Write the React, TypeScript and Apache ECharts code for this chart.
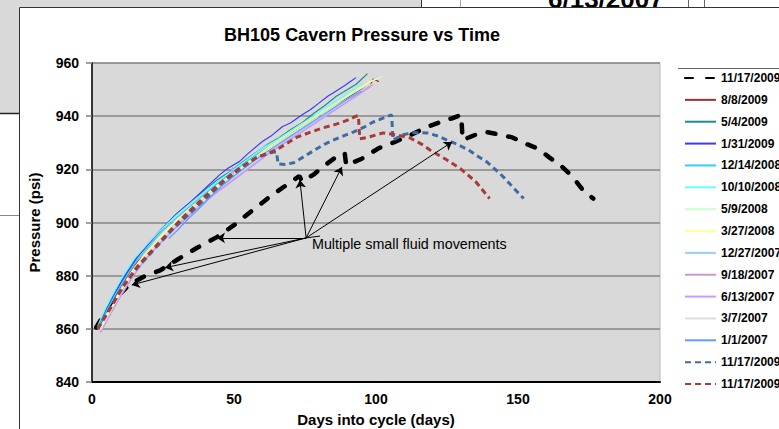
import React, { useEffect, useRef } from "react";
import * as echarts from "echarts";

const FONT = "Liberation Sans, Arial, Helvetica, sans-serif";

const chartTitle = "BH105 Cavern Pressure vs Time";
const xAxisName = "Days into cycle (days)";
const yAxisName = "Pressure (psi)";
const annotationText = "Multiple small fluid movements";

// [day, psi]
const black111709 = [
  [1.5, 860.5], [4, 865], [8, 871], [13, 876.5], [18, 879.5], [24, 882], [30, 886], [37, 890.5],
  [44, 894.5], [50, 899], [57, 905], [63, 910], [69, 914.5], [73, 917.5], [74, 915.5], [78, 918],
  [82, 921.5], [87, 925.5], [89, 926], [89.5, 921.5], [95, 924], [101, 928], [106, 930], [112, 932.8],
  [118, 936], [122, 937.5], [127, 939.3], [130, 940.5], [130.5, 931], [135, 933], [139, 934], [144, 933],
  [148, 932], [153, 929.5], [157, 927.8], [161, 924.5], [165, 921.5], [169, 917.5], [173, 912], [176.5, 909],
];
const s080809 = [
  [2, 860], [4, 864.5], [7, 870], [11, 877.5], [15, 884], [20, 890], [25, 895.5], [30, 900.5], [35, 905.5],
  [40, 910], [45, 914.5], [50, 918.5], [55, 922.5], [60, 926.5], [65, 930], [70, 933.5], [75, 937],
  [80, 940.5], [85, 944], [90, 947], [95, 950], [98, 951.5], [99, 954], [101, 953],
];
const s050409 = [
  [2, 860], [4, 865.5], [7, 871.5], [11, 879.5], [15, 886], [19, 891], [24, 897], [29, 902.5], [34, 907],
  [39, 911.5], [44, 916], [49, 919.5], [54, 923.5], [58, 926.5], [62, 929.5], [66, 932], [70, 935],
  [74, 937.5], [78, 941], [82, 944], [86, 947.5], [90, 950], [93, 952], [95, 954], [97, 956],
];
const s013109 = [
  [2, 860], [3.5, 864], [5, 867], [8, 873], [10, 877], [12, 880.5], [16, 887], [20, 892], [25, 898],
  [30, 903.5], [35, 908], [40, 913], [45, 918], [48, 920.5], [52, 923], [55, 926], [60, 930.5], [63, 932.5],
  [67, 936], [70, 937.5], [74, 940.5], [77, 942.5], [80, 945], [83, 947.5], [86, 949.5], [89, 951.5],
  [91, 953], [93, 954.5],
];
const s121408 = [
  [2, 860], [5, 866.5], [8, 872.5], [12, 879.5], [16, 886], [20, 891], [25, 897], [30, 902], [35, 906.5],
  [40, 911], [45, 915.5], [50, 919.5], [55, 923.5], [60, 927], [65, 930.5], [70, 934], [75, 937.5],
  [80, 941], [85, 944.5], [90, 948], [96, 952],
];
const s101008 = [
  [2, 861], [4, 866], [7, 872.5], [11, 880], [15, 886.5], [20, 892.5], [25, 898], [30, 903], [35, 907.5],
  [40, 912], [45, 916], [50, 920], [55, 924], [60, 928], [65, 931], [70, 934.5], [75, 938], [80, 941.5],
  [85, 945], [90, 948.5], [95, 952],
];
const s050908 = [
  [3, 860], [6, 866], [10, 874], [14, 881], [18, 887], [23, 893], [28, 898.5], [33, 903.5], [38, 908],
  [43, 912.5], [48, 916.5], [53, 920.5], [58, 924.5], [63, 928.5], [68, 932], [73, 935.5], [78, 939],
  [83, 942.5], [88, 946], [93, 949.5], [98, 953], [102.5, 955],
];
const s032708 = [
  [3, 860], [6, 866.5], [10, 874], [14, 881.5], [18, 887.5], [23, 893.5], [28, 899], [33, 904], [38, 908.5],
  [43, 913], [48, 917], [53, 921], [58, 925], [63, 929], [68, 932.5], [73, 936], [78, 939.5], [83, 943],
  [88, 946.5], [93, 950], [97, 952.5], [100, 954],
];
const s122707 = [
  [3, 859], [6, 865], [10, 872.5], [14, 879.5], [18, 885.5], [23, 891.5], [28, 897], [33, 902], [38, 906.5],
  [43, 911], [48, 915], [53, 919], [58, 923], [63, 927], [68, 930.5], [73, 934], [78, 937.5], [83, 941],
  [88, 944.5], [93, 948], [97, 950.5],
];
const s091807 = [
  [3, 858.5], [6, 864.5], [10, 872], [14, 879], [18, 885], [23, 891], [28, 896.5], [33, 901.5], [38, 906],
  [43, 910.5], [48, 914.5], [53, 918.5], [58, 922.5], [63, 926.5], [68, 930], [73, 933.5], [78, 937],
  [83, 940.5], [88, 944], [93, 947.5], [99, 952],
];
const s061307 = [
  [3, 859], [6, 865], [10, 872.5], [14, 879.5], [18, 885.5], [23, 891], [28, 896.5], [33, 901.5], [38, 906],
  [43, 910.5], [48, 914.5], [49, 917.5], [49.5, 921], [50, 916], [53, 918.5], [58, 922.5], [63, 926.5],
  [68, 930], [73, 933.5], [78, 937], [83, 940.5], [88, 944], [93, 947.5], [98, 951],
];
const s030707 = [
  [3, 859.5], [6, 865.5], [10, 873], [14, 880], [18, 886], [23, 892], [28, 897.5], [33, 902.5], [38, 907],
  [43, 911.5], [48, 915.5], [53, 919.5], [58, 923.5], [63, 927.5], [68, 931], [73, 934.5], [78, 938],
  [83, 941.5], [88, 945], [93, 948.5], [100, 953],
];
const s010107 = [
  [27, 894], [30, 897], [34, 901.5], [38, 905.5], [42, 910], [46, 914], [50, 917.5], [55, 921.5],
  [60, 925.5], [65, 929], [70, 932.5], [75, 936], [80, 939.5], [85, 943], [90, 946.5], [95, 949.5],
];
const blue111709 = [
  [2, 860], [6, 867], [11, 876], [16, 883], [22, 890], [28, 897], [34, 903], [40, 909], [46, 915],
  [52, 920], [58, 924.5], [64, 926.5], [65, 926.5], [65.5, 922], [68, 921.8], [71, 922.5], [75, 925],
  [78, 927], [82, 929.5], [85, 931], [89, 932.8], [92, 934], [96, 936], [99, 937.8], [103, 939.5],
  [105.5, 940.5], [106, 931], [109.5, 933], [113, 933.8], [118, 933.7], [122, 932.5], [125, 931],
  [129, 929.2], [133, 927], [136, 924.8], [139, 922.8], [142, 920], [145, 917], [148, 913.5], [152, 909],
];
const red111709 = [
  [2, 860], [6, 867], [11, 876], [16, 883.5], [22, 890.5], [28, 897.5], [34, 904], [40, 910], [46, 915.5],
  [52, 920.5], [58, 924.5], [63, 926.5], [66, 928], [72, 932], [77, 934], [81, 935.5], [86, 937],
  [90, 938.5], [93, 940], [93.8, 940.2], [94.3, 931.5], [97, 932], [102.5, 933.7], [107, 933],
  [112, 931.8], [116, 929.5], [119, 927.3], [125, 923.5], [130, 920], [135, 915.5], [140, 909],
];

const annotationOrigin = [75.4, 894.2];
const arrowTargets = [
  [73.2, 916], [88, 920.9], [126.8, 930.3], [44, 894.2], [25.7, 883], [14, 876.5],
];
const stubEnd = [80.3, 894.9];

type Def = { name: string; data: number[][]; color: string; kind: "solid" | "black" | "dash" };
const seriesDefs: Def[] = [
  { name: "11/17/2009", data: black111709, color: "#000000", kind: "black" },
  { name: "8/8/2009", data: s080809, color: "#993333", kind: "solid" },
  { name: "5/4/2009", data: s050409, color: "#1a8f8f", kind: "solid" },
  { name: "1/31/2009", data: s013109, color: "#3a3aff", kind: "solid" },
  { name: "12/14/2008", data: s121408, color: "#33ccff", kind: "solid" },
  { name: "10/10/2008", data: s101008, color: "#66ffff", kind: "solid" },
  { name: "5/9/2008", data: s050908, color: "#ccffcc", kind: "solid" },
  { name: "3/27/2008", data: s032708, color: "#ffff99", kind: "solid" },
  { name: "12/27/2007", data: s122707, color: "#99ccff", kind: "solid" },
  { name: "9/18/2007", data: s091807, color: "#cc99cc", kind: "solid" },
  { name: "6/13/2007", data: s061307, color: "#cc99ff", kind: "solid" },
  { name: "3/7/2007", data: s030707, color: "#dddddd", kind: "solid" },
  { name: "1/1/2007", data: s010107, color: "#6699ff", kind: "solid" },
  { name: "11/17/2009 ", data: blue111709, color: "#3d6ca3", kind: "dash" },
  { name: "11/17/2009  ", data: red111709, color: "#a83b38", kind: "dash" },
];

export default function App() {
  const ref = useRef<HTMLDivElement>(null);
  useEffect(() => {
    if (!ref.current) return;
    const chart = echarts.init(ref.current, null, { renderer: "svg" });
    const series: any[] = seriesDefs.map((d) => {
      const base: any = {
        name: d.name,
        type: "line",
        data: d.data,
        symbol: "none",
        silent: true,
        itemStyle: { color: d.color },
      };
      if (d.kind === "solid") {
        base.lineStyle = { color: d.color, width: 1.2 };
      } else if (d.kind === "black") {
        base.lineStyle = { color: d.color, width: 4.5, type: [8, 13], cap: "round" };
      } else {
        base.lineStyle = { color: d.color, width: 3, type: [6, 4] };
        base.z = 3;
      }
      return base;
    });
    const arrowData: any[] = arrowTargets.map((t) => [
      { coord: annotationOrigin, symbol: "none" },
      { coord: t, symbol: "arrow" },
    ]);
    arrowData.push([
      { coord: annotationOrigin, symbol: "none" },
      { coord: stubEnd, symbol: "none" },
    ]);
    series.push({
      name: "annotation",
      type: "line",
      data: [],
      silent: true,
      z: 4,
      markLine: {
        silent: true,
        symbolSize: 8,
        label: { show: false },
        lineStyle: { color: "#000", width: 1, type: "solid" },
        emphasis: { disabled: true },
        data: arrowData,
      },
    });

    chart.setOption({
      animation: false,
      backgroundColor: "#ffffff",
      title: {
        text: chartTitle,
        left: 357,
        textAlign: "center",
        top: 21,
        textStyle: { fontFamily: FONT, fontSize: 18, fontWeight: "bold", color: "#000" },
      },
      grid: {
        left: 92,
        top: 63,
        right: 119,
        bottom: 47,
        outerBoundsMode: "none",
        containLabel: false,
        show: true,
        backgroundColor: "#d9d9d9",
        borderColor: "#b8b8b8",
        borderWidth: 1,
      },
      legend: {
        data: seriesDefs.map((d) => d.name),
        orient: "vertical",
        left: 684,
        top: 72,
        itemWidth: 31,
        itemHeight: 12,
        itemGap: 9.86,
        itemTextGap: 5,
        padding: 0,
        selectedMode: false,
        itemStyle: { opacity: 0, color: "transparent", borderColor: "transparent", borderWidth: 0 },
        formatter: (n: string) => n.trim(),
        textStyle: { fontFamily: FONT, fontSize: 12, fontWeight: "bold", color: "#000", lineHeight: 12 },
      },
      xAxis: {
        type: "value",
        min: 0,
        max: 200,
        interval: 50,
        name: xAxisName,
        nameLocation: "middle",
        nameGap: 30,
        nameTextStyle: { fontFamily: FONT, fontSize: 15, fontWeight: "bold", color: "#000" },
        axisLine: { show: true, onZero: false, lineStyle: { color: "#000", width: 2 } },
        axisTick: { show: false },
        splitLine: { show: false },
        axisLabel: { fontFamily: FONT, fontSize: 14, fontWeight: "bold", color: "#000", margin: 10 },
      },
      yAxis: {
        type: "value",
        min: 840,
        max: 960,
        interval: 20,
        name: yAxisName,
        nameLocation: "middle",
        nameGap: 50,
        nameRotate: 90,
        nameTextStyle: { fontFamily: FONT, fontSize: 15, fontWeight: "bold", color: "#000" },
        axisLine: { show: true, onZero: false, lineStyle: { color: "#000", width: 1.5 } },
        axisTick: { show: true, inside: false, length: 6, lineStyle: { color: "#808080", width: 1.5 } },
        splitLine: { show: true, lineStyle: { color: "#858585", width: 1.5 } },
        axisLabel: { fontFamily: FONT, fontSize: 14, fontWeight: "bold", color: "#000", margin: 13 },
      },
      graphic: [
        { type: "rect", z: -10, silent: true, shape: { x: 0, y: 0, width: 421, height: 7 }, style: { fill: "#d9d9d9" } },
        { type: "rect", z: -10, silent: true, shape: { x: 0, y: 0, width: 19, height: 113 }, style: { fill: "#d9d9d9" } },
        { type: "line", z: -10, silent: true, shape: { x1: 421.5, y1: 0, x2: 421.5, y2: 7 }, style: { stroke: "#333", lineWidth: 1 } },
        { type: "line", z: -10, silent: true, shape: { x1: 460.5, y1: 0, x2: 460.5, y2: 7 }, style: { stroke: "#aaa", lineWidth: 1 } },
        { type: "line", z: -10, silent: true, shape: { x1: 688.5, y1: 0, x2: 688.5, y2: 7 }, style: { stroke: "#666", lineWidth: 1 } },
        { type: "line", z: -10, silent: true, shape: { x1: 704.5, y1: 0, x2: 704.5, y2: 7 }, style: { stroke: "#666", lineWidth: 1 } },
        { type: "line", z: -10, silent: true, shape: { x1: 0, y1: 113.5, x2: 19, y2: 113.5 }, style: { stroke: "#222", lineWidth: 1.5 } },
        { type: "line", z: -10, silent: true, shape: { x1: 0, y1: 215.5, x2: 19, y2: 215.5 }, style: { stroke: "#888", lineWidth: 1 } },
        {
          type: "text", z: -10, silent: true, x: 548, y: 12,
          style: { text: "6/13/2007", fontFamily: FONT, fontSize: 26, fontWeight: "bold", fill: "#000", verticalAlign: "bottom" },
        },
        {
          type: "rect", z: -9, silent: true,
          shape: { x: 19.5, y: 7.5, width: 900, height: 600 },
          style: { fill: "#ffffff", stroke: "#333", lineWidth: 1 },
        },
        { type: "line", z: -8, silent: true, shape: { x1: 678, y1: 68.5, x2: 779, y2: 68.5 }, style: { stroke: "#666", lineWidth: 1 } },
        {
          type: "text", z: 10, silent: true, x: 312, y: 244,
          style: { text: annotationText, fontFamily: FONT, fontSize: 14.3, fill: "#000", verticalAlign: "middle" },
        },
      ],
      series,
    });
    return () => chart.dispose();
  }, []);
  return <div ref={ref} style={{ position: "fixed", left: 0, top: 0, width: 779, height: 429 }} />;
}
